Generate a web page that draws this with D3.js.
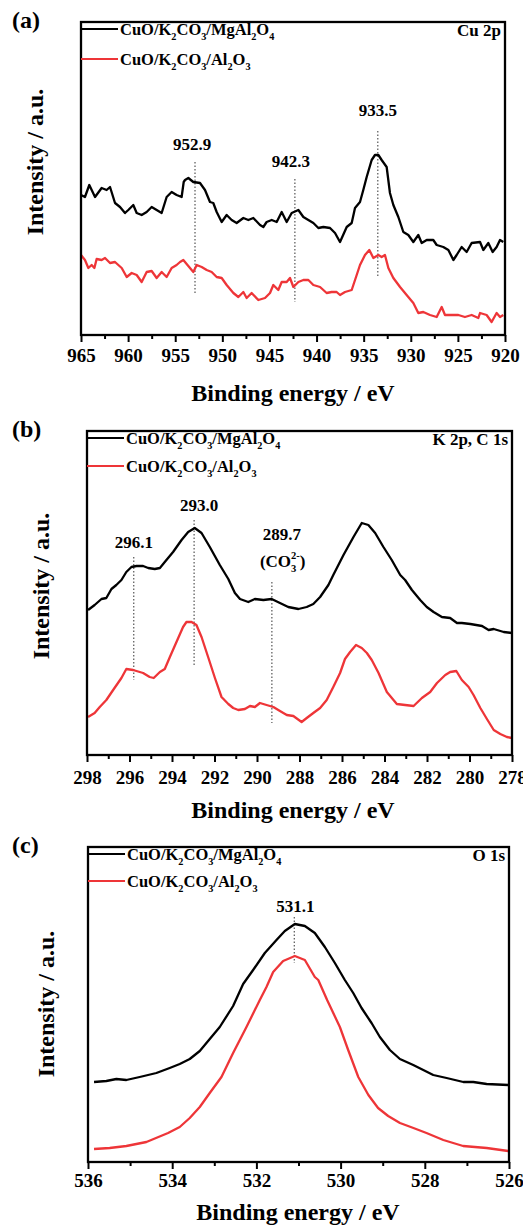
<!DOCTYPE html>
<html>
<head>
<meta charset="utf-8">
<script src="https://cdn.jsdelivr.net/npm/d3@7/dist/d3.min.js"></script>
<style>
  body { margin: 0; background: #fff; }
  text { font-family: "Liberation Serif", "Times New Roman", serif; font-weight: bold; }
</style>
</head>
<body>
<div id="chart"></div>
<script>
// ---- data (intensity in arbitrary units)

// (a) Cu 2p
var cuEnergyMg = [965.0,964.58,964.12,963.51,962.81,962.28,961.92,961.39,960.86,960.33,959.98,959.45,959.09,958.56,958.03,957.5,956.97,956.44,955.91,955.38,954.85,954.32,954.1,953.96,953.61,953.08,952.37,951.84,951.31,950.96,950.6,950.07,949.54,949.01,948.48,947.77,947.24,946.71,946.0,945.65,945.3,944.76,944.23,943.7,943.17,942.64,941.93,941.4,940.87,940.34,939.81,939.28,938.57,938.04,937.51,936.8,936.27,935.92,935.39,935.04,934.68,934.15,933.8,933.44,933.09,932.56,932.21,931.85,931.32,930.79,930.26,929.73,929.2,928.84,928.31,927.61,927.25,926.55,926.01,925.48,925.13,924.6,924.07,923.54,922.65,922.3,921.77,921.31,920.89,920.53,920.18];
var cuIntMg = [140,138,150,138,147,145,148,132,128,122,125,130,122,120,123,128,125,122,138,143,140,138,153,155,157,153,152,145,133,132,123,113,120,115,112,117,115,117,110,108,113,115,113,123,113,122,125,118,115,112,107,108,107,102,93,108,112,127,133,145,158,175,180,180,175,168,142,130,118,103,100,93,100,92,95,95,90,88,85,75,80,88,83,92,93,85,92,83,88,95,93];
var cuEnergyAl = [965.0,964.58,964.22,963.87,963.58,963.34,962.81,962.45,961.92,961.39,961.04,960.68,960.15,959.62,959.09,958.56,958.03,957.5,956.97,956.44,955.91,955.38,954.85,954.49,954.14,953.61,953.08,952.72,952.19,951.66,951.13,950.6,950.07,949.54,948.83,948.3,947.77,947.42,946.89,946.18,945.47,944.94,944.59,944.06,943.7,943.17,942.82,942.46,941.93,941.4,940.87,940.34,939.63,938.93,938.4,937.87,937.51,936.98,936.27,935.74,935.39,934.86,934.4,933.97,933.44,933.09,932.74,932.38,931.85,931.14,930.44,929.73,929.2,928.67,927.96,927.25,926.72,926.37,925.66,924.95,924.25,923.54,922.83,922.65,921.95,921.42,920.89,920.53,920.18];
var cuIntAl = [80,75,67,70,67,76,75,77,72,73,70,67,58,62,60,53,63,64,57,63,58,67,70,73,75,69,63,70,68,65,63,58,57,50,42,38,43,37,42,35,37,42,50,45,53,53,57,48,53,55,55,50,48,42,43,43,40,43,45,60,70,80,85,77,80,78,80,67,57,48,40,32,22,23,20,18,28,20,20,20,18,20,17,22,20,13,22,18,20];
var cuTicks = [965,960,955,950,945,940,935,930,925,920];
var cuPeaks = [952.9, 942.3, 933.5];
var cuPeakTop = [173, 156, 204];
var cuPeakBottom = [42, 33, 58];
var cuPeakLabelAt = [185, 168, 219];

// (b) K 2p, C 1s
var kcEnergyMg = [297.95,297.64,297.32,297.09,296.85,296.62,296.38,296.15,295.91,295.67,295.36,295.12,294.81,294.57,294.34,293.95,293.55,293.24,292.93,292.61,292.22,291.75,291.35,291.04,290.8,290.41,290.1,289.7,289.31,288.92,288.53,288.05,287.66,287.35,287.03,286.64,286.41,285.93,285.46,285.07,284.76,284.44,284.05,283.66,283.26,283.03,282.71,282.32,282.01,281.69,281.3,280.91,280.59,280.36,279.96,279.41,279.1,278.86,278.39,278.0];
var kcIntMg = [145,150,156,157,166,170,175,183,188,189,189,187,186,187,193,203,215,223,227,222,208,190,176,162,156,153,156,155,156,152,148,146,148,151,158,170,180,200,218,232,230,222,208,195,180,175,165,155,148,143,138,137,132,132,131,129,125,126,123,122];
var kcEnergyAl = [297.95,297.64,297.4,297.09,296.77,296.38,296.15,295.83,295.36,295.05,294.86,294.57,294.34,294.1,293.79,293.48,293.32,293.08,292.85,292.61,292.3,291.98,291.67,291.35,291.12,290.88,290.57,290.33,290.1,289.86,289.55,289.23,288.92,288.6,288.29,287.9,287.66,287.35,287.03,286.72,286.41,286.09,285.86,285.62,285.34,285.07,284.83,284.6,284.28,283.89,283.42,283.03,282.63,282.24,281.85,281.53,281.14,280.91,280.62,280.36,280.04,279.81,279.49,279.18,278.86,278.55,278.24,278.0];
var kcIntAl = [38,42,48,55,65,77,86,85,82,78,77,83,86,98,113,128,133,133,130,118,98,77,58,51,47,45,46,49,48,52,50,48,44,40,39,33,37,42,47,55,68,82,96,103,110,107,102,95,82,63,51,50,49,57,63,72,80,83,84,75,68,60,47,36,25,21,18,17];
var kcTicks = [298,296,294,292,290,288,286,284,282,280,278];
var kcPeaks = [295.8, 292.96, 289.3];
var kcPeakLabels = ["296.1", "293.0", "289.7"];
var kcPeakTop = [198, 235, 173];
var kcPeakBottom = [75, 88, 32];
var kcPeakLabelAt = [207, 244, 215];

// (c) O 1s
var oEnergyMg = [535.857,535.564,535.326,535.089,534.772,534.376,534.059,533.821,533.583,533.345,533.108,532.87,532.553,532.315,532.078,531.8,531.523,531.325,531.087,530.849,530.612,530.374,530.136,529.899,529.7,529.502,529.265,529.067,528.829,528.591,528.274,528.036,527.799,527.482,527.085,526.848,526.531,526.016];
var oIntMg = [80,81,83,82,85,89,94,98,103,111,123,135,156,178,192,209,222,231,238,236,229,215,199,182,169,154,139,125,112,103,97,92,87,84,80,80,78,77];
var oEnergyAl = [535.857,535.485,535.089,534.613,534.098,533.821,533.583,533.345,533.108,532.83,532.553,532.236,531.919,531.761,531.602,531.365,531.087,530.849,530.612,530.53,530.32,530.017,529.82,529.58,529.34,529.11,528.87,528.59,528.27,527.96,527.56,527.09,526.53,526.02];
var oIntAl = [13,14,16,20,29,35,44,55,69,85,109,135,162,175,190,201,206,202,185,182,162,135,112,85,67,54,46,39,34,29,22,16,14,11];
var oTicks = [536,534,532,530,528,526];
var oPeaks = [531.1];
var oPeakTop = [245];
var oPeakBottom = [199];
var oPeakLabelAt = [250];

var seriesMg = [["CuO/K",""],["2","s"],["CO",""],["3","s"],["/MgAl",""],["2","s"],["O",""],["4","s"]];
var seriesAl = [["CuO/K",""],["2","s"],["CO",""],["3","s"],["/Al",""],["2","s"],["O",""],["3","s"]];
var carbonate = [["(CO",""],["3","s"],["2-","u"],[")",""]];

var red = "#ee3538";

var svg = d3.select("#chart").append("svg")
    .attr("width", 523)
    .attr("height", 1225);

function zip(xs, ys) {
    return xs.map(function(x, i) { return [x, ys[i]]; });
}

// text with sub/superscripts; "u" after "s" is stacked over the subscript
function richText(g, x, y, parts, size) {
    var t = g.append("text").attr("x", x).attr("y", y).style("font-size", size + "px");
    var cur = 0;
    parts.forEach(function(p, i) {
        var sp = t.append("tspan").text(p[0]);
        var target = 0;
        if (p[1] === "s") target = size * 0.3;
        if (p[1] === "u") target = -size * 0.45;
        if (p[1]) sp.style("font-size", (size * 0.62) + "px");
        if (target !== cur) sp.attr("dy", target - cur);
        if (p[1] === "u" && i > 0 && parts[i - 1][1] === "s") sp.attr("dx", -size * 0.31);
        cur = target;
    });
    return t;
}

function drawPanel(p) {
    var g = svg.append("g");

    var x = d3.scaleLinear().domain(p.xDomain).range([p.left, p.right]);
    var y = d3.scaleLinear().domain([0, p.yMax]).range([p.bottom, p.top]);

    // minor ticks
    g.append("g")
        .attr("transform", "translate(0," + p.bottom + ")")
        .call(d3.axisBottom(x).tickValues(p.minor).tickSize(4).tickFormat(""))
        .call(function(a) { a.select(".domain").remove(); a.selectAll("line").attr("stroke-width", 2); });

    // major ticks + labels
    g.append("g")
        .attr("transform", "translate(0," + p.bottom + ")")
        .call(d3.axisBottom(x).tickValues(p.ticks).tickSize(7).tickPadding(p.tickPad).tickFormat(d3.format("d")))
        .call(function(a) {
            a.select(".domain").remove();
            a.selectAll("line").attr("stroke-width", 2);
            a.selectAll("text").style("font-size", "19px").style("font-family", "Liberation Serif, serif")
                .style("font-weight", "bold").attr("fill", "#000");
        });

    var line = d3.line().x(function(d) { return x(d[0]); }).y(function(d) { return y(d[1]); });

    // dotted peak markers
    p.peaks.forEach(function(e, i) {
        g.append("line")
            .attr("x1", x(e)).attr("x2", x(e))
            .attr("y1", y(p.peakTop[i])).attr("y2", y(p.peakBottom[i]))
            .attr("stroke", "#555").attr("stroke-width", 1.2)
            .attr("stroke-dasharray", "1.5,2");
        g.append("text")
            .attr("x", x(e) + (p.labelDx ? p.labelDx[i] : 0))
            .attr("y", y(p.peakLabelAt[i]))
            .attr("text-anchor", "middle")
            .style("font-size", "17px")
            .text(p.peakLabels ? p.peakLabels[i] : d3.format(".1f")(e));
    });

    g.append("path").datum(zip(p.eMg, p.iMg))
        .attr("d", line).attr("fill", "none").attr("stroke", "#000")
        .attr("stroke-width", 2.3).attr("stroke-linejoin", "round");
    g.append("path").datum(zip(p.eAl, p.iAl))
        .attr("d", line).attr("fill", "none").attr("stroke", red)
        .attr("stroke-width", 2.3).attr("stroke-linejoin", "round");

    // frame
    g.append("rect")
        .attr("x", p.left).attr("y", p.top)
        .attr("width", p.right - p.left).attr("height", p.bottom - p.top)
        .attr("fill", "none").attr("stroke", "#000").attr("stroke-width", 2.3);

    // legend
    g.append("line").attr("x1", p.left).attr("x2", p.left + 37)
        .attr("y1", p.top + 7).attr("y2", p.top + 7).attr("stroke", "#000").attr("stroke-width", 2);
    richText(g, p.left + 39, p.top + 13, seriesMg, 16.5);
    g.append("line").attr("x1", p.left).attr("x2", p.left + 37)
        .attr("y1", p.top + p.legendGap + 7).attr("y2", p.top + p.legendGap + 7)
        .attr("stroke", red).attr("stroke-width", 2);
    richText(g, p.left + 39, p.top + p.legendGap + 13, seriesAl, 16.5);

    g.append("text").attr("x", p.right - 4).attr("y", p.top + 14)
        .attr("text-anchor", "end").style("font-size", "17px").text(p.region);

    // panel letter
    g.append("text").attr("x", 12).attr("y", p.letterY)
        .style("font-size", "24px").text(p.letter);

    // axis titles
    g.append("text").attr("x", p.titleX).attr("y", p.bottom + p.titleDy)
        .attr("text-anchor", "middle").style("font-size", "24px").text("Binding energy / eV");
    g.append("text")
        .attr("transform", "translate(" + p.yTitleX + "," + p.yTitleY + ") rotate(-90)")
        .attr("text-anchor", "middle").style("font-size", "24px").text("Intensity / a.u.");

    return {g: g, x: x, y: y};
}

drawPanel({
    left: 81, right: 505, top: 22, bottom: 335, yMax: 313,
    xDomain: [965, 920], ticks: cuTicks, tickPad: 7,
    minor: d3.range(962.5, 920, -5),
    eMg: cuEnergyMg, iMg: cuIntMg, eAl: cuEnergyAl, iAl: cuIntAl,
    peaks: cuPeaks, peakTop: cuPeakTop, peakBottom: cuPeakBottom, peakLabelAt: cuPeakLabelAt,
    labelDx: [-3, -4, 0],
    legendGap: 30, region: "Cu 2p", letter: "(a)", letterY: 28,
    titleX: 293, titleDy: 66, yTitleX: 43, yTitleY: 162
});

var pb = drawPanel({
    left: 87, right: 512, top: 431, bottom: 755, yMax: 324,
    xDomain: [298, 278], ticks: kcTicks, tickPad: 9,
    minor: d3.range(297, 278, -2),
    eMg: kcEnergyMg, iMg: kcIntMg, eAl: kcEnergyAl, iAl: kcIntAl,
    peaks: kcPeaks, peakTop: kcPeakTop, peakBottom: kcPeakBottom, peakLabelAt: kcPeakLabelAt,
    peakLabels: kcPeakLabels, labelDx: [0, 5, 10],
    legendGap: 28, region: "K 2p, C 1s", letter: "(b)", letterY: 437,
    titleX: 293, titleDy: 63, yTitleX: 49, yTitleY: 586
});
// carbonate tag under 289.7
richText(pb.g, pb.x(289.3) - 12, pb.y(kcPeakLabelAt[2]) + 27, carbonate, 17);

drawPanel({
    left: 88, right: 509, top: 847, bottom: 1162, yMax: 315,
    xDomain: [536, 526], ticks: oTicks, tickPad: 5,
    minor: d3.range(535, 526, -2),
    eMg: oEnergyMg, iMg: oIntMg, eAl: oEnergyAl, iAl: oIntAl,
    peaks: oPeaks, peakTop: oPeakTop, peakBottom: oPeakBottom, peakLabelAt: oPeakLabelAt,
    labelDx: [1],
    legendGap: 27, region: "O 1s", letter: "(c)", letterY: 853,
    titleX: 298, titleDy: 58, yTitleX: 54, yTitleY: 1004
});
</script>
</body>
</html>
